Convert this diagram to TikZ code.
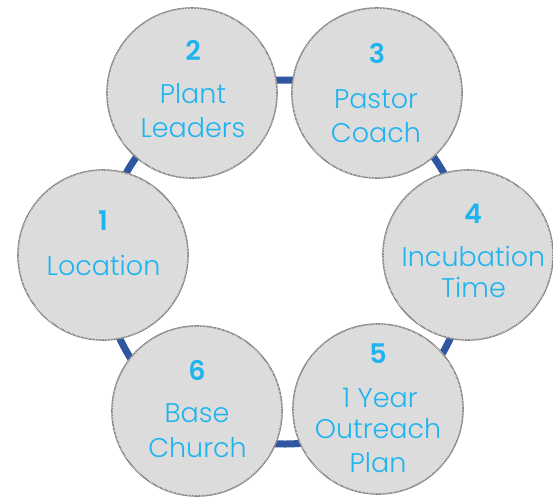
\documentclass[tikz,border=0pt]{standalone}
\usepackage{fontspec}
\setmainfont{Poppins}[UprightFont=* Light, BoldFont=* SemiBold]
\usetikzlibrary{patterns}
\definecolor{ringblue}{HTML}{2F56A0}
\definecolor{txtblue}{HTML}{1FB4F0}
\definecolor{discfill}{HTML}{DADADA}
\definecolor{discstripe}{HTML}{E3E3E3}
\definecolor{discedge}{HTML}{8A8A8A}
\begin{document}
\begin{tikzpicture}[x=1pt,y=-1pt,
  disc/.style={circle, minimum size=170pt, inner sep=0pt, fill=discfill, draw=discedge, line width=1.6pt,
    postaction={pattern=north west lines, pattern color=discstripe}},
  numtxt/.style={anchor=base, text=txtblue, font=\fontsize{27}{34}\selectfont\bfseries, inner sep=0pt},
  lbltxt/.style={anchor=base, text=txtblue, font=\fontsize{27}{34}\selectfont, inner sep=0pt},
  ringline/.style={draw=ringblue, line width=7pt}]
\useasboundingbox (0,0) rectangle (553,496);
\coordinate (ringc) at (285,262);
\draw[ringline] (ringc) circle[radius=182];
\node[disc] (c1) at (103,255) {};
\node[disc] (c2) at (192,93) {};
\node[disc] (c3) at (377,93) {};
\node[disc] (c4) at (468,255) {};
\node[disc] (c5) at (378,409) {};
\node[disc] (c6) at (197,411) {};
% texts
\node[numtxt] (n1) at (103,230) {1};
\node[lbltxt] (l1a) at (103.5,275) {Location};
\node[numtxt] (n2) at (193,60) {2};
\node[lbltxt] (l2a) at (193,103) {Plant};
\node[lbltxt] (l2b) at (193,137) {Leaders};
\node[numtxt] (n3) at (377,63) {3};
\node[lbltxt] (l3a) at (376,108) {Pastor};
\node[lbltxt] (l3b) at (376,142) {Coach};
\node[numtxt] (n4) at (473,223) {4};
\node[lbltxt] (l4a) at (473.5,266) {Incubation};
\node[lbltxt] (l4b) at (473.5,297.5) {Time};
\node[numtxt] (n5) at (378,363) {5};
\node[lbltxt] (l5a) at (380,407) {1 Year};
\node[lbltxt] (l5b) at (378,438) {Outreach};
\node[lbltxt] (l5c) at (378,472) {Plan};
\node[numtxt] (n6) at (197,380) {6};
\node[lbltxt] (l6a) at (197,422) {Base};
\node[lbltxt] (l6b) at (197.5,457) {Church};
\end{tikzpicture}
\end{document}
